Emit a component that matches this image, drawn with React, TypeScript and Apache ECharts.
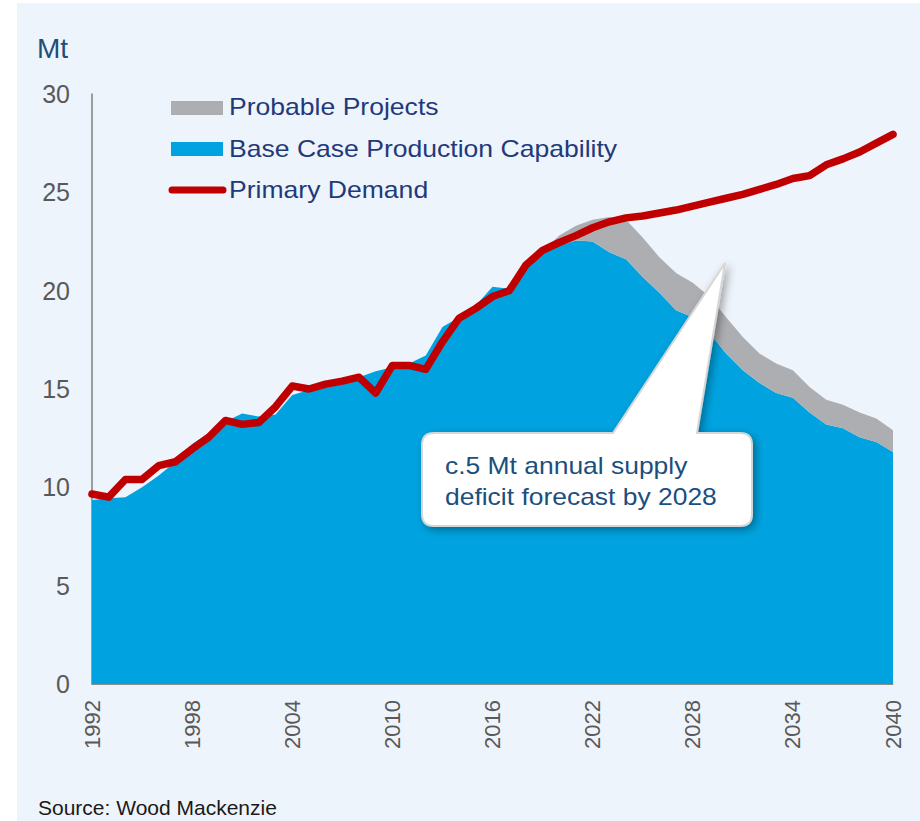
import React, { useEffect, useRef } from "react";
import * as echarts from "echarts";

const years: string[] = [];
for (let y = 1992; y <= 2040; y++) years.push(String(y));

const baseCase = [
  9.35, 9.45, 9.5, 10.0, 10.6, 11.3, 12.2, 12.75, 13.35, 13.75,
  13.6, 13.7, 14.7, 14.95, 15.2, 15.45, 15.6, 15.9, 16.1, 16.3,
  16.7, 18.15, 18.65, 19.25, 20.2, 20.1, 21.2, 21.95, 22.3, 22.55,
  22.5, 21.95, 21.6, 20.7, 19.9, 19.0, 18.65, 17.85, 16.8, 15.95,
  15.3, 14.8, 14.55, 13.8, 13.2, 13.0, 12.55, 12.3, 11.8,
];

const probable = [
  0, 0, 0, 0, 0, 0, 0, 0, 0, 0,
  0, 0, 0, 0, 0, 0, 0, 0, 0, 0,
  0, 0, 0, 0, 0, 0, 0, 0.05, 0.5, 0.75,
  1.1, 1.8, 2.0, 2.0, 1.8, 1.9, 1.75, 1.85, 1.85, 1.7,
  1.5, 1.5, 1.4, 1.3, 1.25, 1.2, 1.25, 1.2, 1.1,
];

const demand = [
  9.66, 9.5, 10.4, 10.4, 11.1, 11.3, 11.95, 12.55, 13.4, 13.2,
  13.3, 14.1, 15.15, 15.0, 15.25, 15.4, 15.6, 14.8, 16.2, 16.2,
  16.0, 17.4, 18.6, 19.1, 19.7, 20.0, 21.3, 22.05, 22.45, 22.8,
  23.2, 23.5, 23.7, 23.8, 23.95, 24.1, 24.3, 24.5, 24.7, 24.9,
  25.15, 25.4, 25.7, 25.85, 26.4, 26.7, 27.05, 27.5, 27.95,
];

const seriesNames = ["Probable Projects", "Base Case Production Capability", "Primary Demand"];
const calloutLines = ["c.5 Mt annual supply", "deficit forecast by 2028"];
const unitLabel = "Mt";
const sourceText = "Source: Wood Mackenzie";

const FONT = "'Liberation Sans', Arial, sans-serif";
const BLUE = "#00A3E0";
const GRAY = "#ADAEB2";
const RED = "#C00000";

echarts.graphic.registerShape(
  "callout",
  echarts.graphic.extendPath(
    "M434 433 L613 433 L725 263 L697 433 L740 433 Q752 433 752 445 L752 514 Q752 526 740 526 L434 526 Q422 526 422 514 L422 445 Q422 433 434 433 Z",
    {}
  )
);

export default function App() {
  const ref = useRef<HTMLDivElement>(null);
  useEffect(() => {
    if (!ref.current) return;
    const chart = echarts.init(ref.current, undefined, { renderer: "svg" });
    const legendText = "#1F3A7A";
    chart.setOption({
      animation: false,
      grid: { left: 92, right: 27, top: 94, bottom: 137 },
      xAxis: {
        type: "category",
        data: years,
        boundaryGap: false,
        axisTick: { show: false },
        axisLine: { show: true, lineStyle: { color: "#8C8C8C", width: 1 } },
        axisLabel: {
          interval: 5,
          rotate: 90,
          fontSize: 22,
          color: "#595959",
          margin: 16,
          fontFamily: FONT,
        },
        splitLine: { show: false },
      },
      yAxis: {
        type: "value",
        min: 0,
        max: 30,
        interval: 5,
        axisLine: { show: true, lineStyle: { color: "#7F7F7F", width: 1.5 } },
        axisTick: { show: false },
        splitLine: { show: false },
        axisLabel: { fontSize: 25, color: "#595959", margin: 22, fontFamily: FONT },
      },
      series: [
        {
          name: seriesNames[1],
          type: "line",
          stack: "supply",
          data: baseCase,
          showSymbol: false,
          lineStyle: { width: 0 },
          areaStyle: { color: BLUE, opacity: 1 },
          itemStyle: { color: BLUE },
          z: 1,
        },
        {
          name: seriesNames[0],
          type: "line",
          stack: "supply",
          data: probable,
          showSymbol: false,
          lineStyle: { width: 0 },
          areaStyle: { color: GRAY, opacity: 1 },
          itemStyle: { color: GRAY },
          z: 1,
        },
        {
          name: seriesNames[2],
          type: "line",
          data: demand,
          showSymbol: false,
          lineStyle: { width: 7.5, color: RED, cap: "round", join: "round" },
          itemStyle: { color: RED },
          z: 3,
        },
      ],
      graphic: {
        elements: [
          {
            type: "text",
            x: 37,
            y: 48,
            style: { text: unitLabel, font: `28px ${FONT}`, fill: "#1F4E79", verticalAlign: "middle" },
          },
          { type: "rect", shape: { x: 171, y: 101, width: 52, height: 14 }, style: { fill: GRAY } },
          { type: "rect", shape: { x: 171, y: 142, width: 52, height: 14 }, style: { fill: BLUE } },
          {
            type: "line",
            shape: { x1: 172, y1: 190, x2: 223, y2: 190 },
            style: { stroke: RED, lineWidth: 7, lineCap: "round" },
          },
          {
            type: "text",
            x: 229,
            y: 107,
            scaleX: 1.155,
            style: { text: seriesNames[0], font: `23px ${FONT}`, fill: legendText, verticalAlign: "middle" },
          },
          {
            type: "text",
            x: 229,
            y: 149,
            scaleX: 1.155,
            style: { text: seriesNames[1], font: `23px ${FONT}`, fill: legendText, verticalAlign: "middle" },
          },
          {
            type: "text",
            x: 229,
            y: 190,
            scaleX: 1.155,
            style: { text: seriesNames[2], font: `23px ${FONT}`, fill: legendText, verticalAlign: "middle" },
          },
          {
            type: "callout",
            x: 0,
            y: 0,
            z: 50,
            style: {
              fill: "#FFFFFF",
              stroke: "#D6D6D6",
              lineWidth: 2,
              shadowBlur: 8,
              shadowColor: "rgba(0,0,0,0.35)",
              shadowOffsetX: 3,
              shadowOffsetY: 3,
            },
          },
          {
            type: "text",
            x: 445,
            y: 466,
            z: 51,
            scaleX: 1.15,
            style: { text: calloutLines[0], font: `23px ${FONT}`, fill: "#1B4F7E", verticalAlign: "middle" },
          },
          {
            type: "text",
            x: 445,
            y: 497,
            z: 51,
            scaleX: 1.15,
            style: { text: calloutLines[1], font: `23px ${FONT}`, fill: "#1B4F7E", verticalAlign: "middle" },
          },
          {
            type: "text",
            x: 38,
            y: 807,
            style: { text: sourceText, font: `21px ${FONT}`, fill: "#1A1A1A", verticalAlign: "middle" },
          },
        ],
      },
    });
    return () => chart.dispose();
  }, []);

  return (
    <div style={{ position: "fixed", left: 0, top: 0, width: 920, height: 821, background: "#FFFFFF" }}>
      <div style={{ position: "absolute", left: 17, top: 3, right: 0, bottom: 0, background: "#EEF4FC" }} />
      <div ref={ref} style={{ position: "absolute", left: 0, top: 0, width: 920, height: 821 }} />
    </div>
  );
}
